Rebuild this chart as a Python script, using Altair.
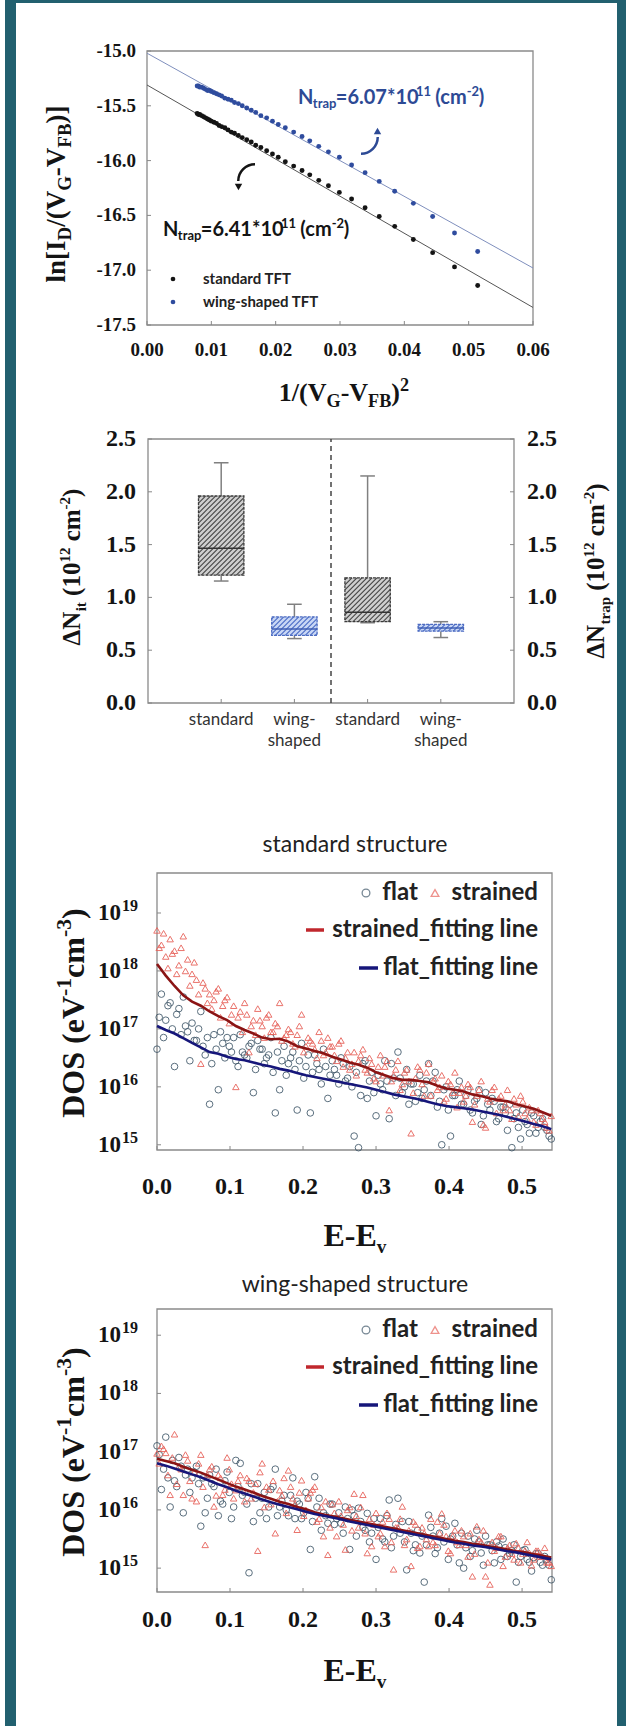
import math
import altair as alt
import pandas as pd

# ---------------------------------------------------------------- styles
SERIF = "Liberation Serif"
SANS = "Lato"
TEAL = "#22606f"
INK = "#141414"
DOT_BLUE = "#2f4c9e"
FRAME = "#8a8a8a"
CIRC = "#3e5668"
TRI = "#e8645c"
RED_FIT = "#8b1414"
NAVY_FIT = "#16167a"

# ---------------------------------------------------------------- panel 1 data
p1_x = [0.0514, 0.0478, 0.0444, 0.0414, 0.0385, 0.0361, 0.0339, 0.0318, 0.0299, 0.0282,
        0.0267, 0.0253, 0.0241, 0.0228, 0.0215, 0.0204, 0.0195, 0.0186, 0.0177, 0.0169,
        0.0162, 0.0155, 0.0148, 0.0142, 0.0136, 0.0131, 0.0126, 0.0121, 0.0116, 0.0112,
        0.0108, 0.0104, 0.0100, 0.0097, 0.0094, 0.0091, 0.0088, 0.0085, 0.0082, 0.0080,
        0.0078]
p1_std = [-17.14, -16.97, -16.84, -16.72, -16.60, -16.51, -16.43, -16.35, -16.29, -16.23,
          -16.18, -16.13, -16.09, -16.05, -16.01, -15.97, -15.94, -15.91, -15.88, -15.86,
          -15.83, -15.81, -15.79, -15.77, -15.75, -15.74, -15.72, -15.70, -15.69, -15.68,
          -15.66, -15.65, -15.64, -15.63, -15.62, -15.61, -15.60, -15.59, -15.58, -15.58,
          -15.57]
p1_wing = [-16.83, -16.66, -16.51, -16.39, -16.28, -16.19, -16.11, -16.04, -15.97, -15.92,
           -15.87, -15.82, -15.78, -15.74, -15.70, -15.67, -15.64, -15.61, -15.59, -15.56,
           -15.54, -15.52, -15.50, -15.48, -15.47, -15.45, -15.44, -15.43, -15.41, -15.40,
           -15.39, -15.38, -15.37, -15.36, -15.36, -15.35, -15.34, -15.33, -15.33, -15.32,
           -15.32]
p1_fit_x = [0.0, 0.06]
p1_fit_std = [-15.31, -17.34]
p1_fit_wing = [-15.02, -16.98]
p1_xticks = [0.00, 0.01, 0.02, 0.03, 0.04, 0.05, 0.06]
p1_yticks = [-15.0, -15.5, -16.0, -16.5, -17.0, -17.5]

# ---------------------------------------------------------------- panel 2 data
box_kind = ["standard", "wing-shaped", "standard", "wing-shaped"]
box_pos = [1, 2, 3, 4]
box_whislo = [1.155, 0.61, 0.76, 0.62]
box_q1 = [1.21, 0.64, 0.77, 0.68]
box_med = [1.465, 0.70, 0.86, 0.71]
box_q3 = [1.96, 0.815, 1.185, 0.745]
box_whishi = [2.275, 0.935, 2.15, 0.77]
p2_yticks = [0.0, 0.5, 1.0, 1.5, 2.0, 2.5]
p2_lab1 = ["standard", "wing-", "standard", "wing-"]
p2_lab2 = ["", "shaped", "", "shaped"]

# ---------------------------------------------------------------- panels 3/4 data (log10 DOS)
E_PTS = [0.000, 0.006, 0.012, 0.018, 0.024, 0.030, 0.036, 0.042, 0.048, 0.054,
         0.060, 0.066, 0.072, 0.078, 0.084, 0.090, 0.096, 0.102, 0.108, 0.114,
         0.120, 0.126, 0.132, 0.138, 0.144, 0.150, 0.156, 0.162, 0.168, 0.174,
         0.180, 0.186, 0.192, 0.198, 0.204, 0.210, 0.216, 0.222, 0.228, 0.234,
         0.240, 0.246, 0.252, 0.258, 0.264, 0.270, 0.276, 0.282, 0.288, 0.294,
         0.300, 0.306, 0.312, 0.318, 0.324, 0.330, 0.336, 0.342, 0.348, 0.354,
         0.360, 0.366, 0.372, 0.378, 0.384, 0.390, 0.396, 0.402, 0.408, 0.414,
         0.420, 0.426, 0.432, 0.438, 0.444, 0.450, 0.456, 0.462, 0.468, 0.474,
         0.480, 0.486, 0.492, 0.498, 0.504, 0.510, 0.516, 0.522, 0.528, 0.534,
         0.540]
E_PTS2 = [0.003, 0.009, 0.015, 0.021, 0.027, 0.033, 0.039, 0.045, 0.051, 0.057,
          0.063, 0.069, 0.075, 0.081, 0.087, 0.093, 0.099, 0.105, 0.111, 0.117,
          0.123, 0.129, 0.135, 0.141, 0.147, 0.153, 0.159, 0.165, 0.171, 0.177,
          0.183, 0.189, 0.195, 0.201, 0.207, 0.213, 0.219, 0.225, 0.231, 0.237,
          0.243, 0.249, 0.255, 0.261, 0.267, 0.273, 0.279, 0.285, 0.291, 0.297,
          0.303, 0.309, 0.315, 0.321, 0.327, 0.333, 0.339, 0.345, 0.351, 0.357,
          0.363, 0.369, 0.375, 0.381, 0.387, 0.393, 0.399, 0.405, 0.411, 0.417,
          0.423, 0.429, 0.435, 0.441, 0.447, 0.453, 0.459, 0.465, 0.471, 0.477,
          0.483, 0.489, 0.495, 0.501, 0.507, 0.513, 0.519, 0.525, 0.531, 0.537]
std_strained = [18.70, 18.45, 18.25, 18.55, 18.35, 18.10, 18.60, 18.20, 17.95, 17.85,
                16.40, 17.70, 17.60, 17.50, 17.70, 17.40, 17.55, 17.25, 16.00, 17.30,
                17.45, 16.60, 17.15, 17.35, 17.05, 17.20, 16.95, 17.10, 17.45, 16.85,
                17.00, 16.75, 16.90, 17.25, 16.70, 16.80, 16.65, 16.95, 16.55, 16.85,
                16.70, 16.45, 16.80, 16.50, 16.30, 16.60, 16.45, 16.65, 16.25, 16.40,
                16.10, 16.55, 16.35, 15.60, 16.20, 16.45, 16.05, 16.30, 15.20, 16.15,
                16.30, 15.85, 16.40, 16.10, 15.95, 16.20, 15.80, 16.05, 16.25, 15.90,
                15.75, 16.05, 15.40, 15.85, 16.10, 15.30, 15.75, 16.00, 15.80, 15.60,
                15.95, 15.45, 15.70, 15.85, 15.55, 15.65, 15.40, 15.60, 15.45, 15.30,
                15.50]
std_strained2 = [18.40, 18.65, 18.05, 18.30, 17.95, 18.40, 18.00, 17.75, 18.15, 17.60,
                 17.80, 17.45, 17.35, 17.65, 17.20, 17.50, 17.10, 17.40, 17.20, 16.95,
                 17.25, 17.05, 16.90, 17.15, 16.85, 17.25, 16.95, 17.05, 16.80, 16.90,
                 16.95, 16.70, 17.05, 16.60, 16.85, 16.75, 16.50, 16.80, 16.60, 16.70,
                 16.55, 16.75, 16.35, 16.60, 16.40, 16.20, 16.55, 16.30, 16.50, 16.15,
                 16.35, 16.20, 16.45, 16.10, 16.30, 15.95, 16.25, 16.10, 15.90, 16.35,
                 16.05, 16.25, 15.85, 16.15, 16.00, 15.75, 16.10, 15.90, 15.65, 16.00,
                 15.85, 16.00, 15.70, 15.95, 15.35, 15.80, 15.95, 15.55, 15.85, 15.70,
                 15.60, 15.80, 15.50, 15.75, 15.45, 15.60, 15.35, 15.55, 15.40, 15.25]
std_flat = [16.65, 17.60, 17.15, 17.45, 16.35, 17.35, 17.55, 16.95, 17.10, 16.80,
            17.30, 16.55, 15.70, 16.90, 15.95, 16.75, 16.85, 16.60, 16.45, 16.90,
            16.55, 16.70, 15.90, 16.80, 16.65, 16.50, 16.85, 15.55, 15.95, 16.70,
            16.40, 16.60, 15.60, 16.75, 16.35, 15.55, 16.55, 16.30, 16.65, 15.80,
            16.45, 16.20, 16.50, 16.10, 16.35, 15.15, 14.95, 16.40, 15.80, 16.25,
            15.50, 16.05, 16.45, 15.45, 16.15, 16.60, 15.90, 16.30, 16.05, 15.75,
            16.20, 15.95, 16.40, 16.10, 15.65, 15.00, 16.00, 15.15, 15.85, 16.10,
            15.70, 15.95, 15.55, 15.80, 15.35, 15.90, 15.60, 15.75, 15.45, 15.65,
            15.25, 14.95, 15.55, 15.10, 15.40, 15.20, 15.50, 15.30, 15.45, 15.25,
            15.10]
std_flat2 = [17.20, 16.85, 17.40, 17.00, 17.25, 16.90, 17.05, 16.45, 16.80, 17.00,
             16.70, 16.85, 16.40, 16.65, 16.95, 16.50, 16.70, 16.85, 16.35, 16.60,
             16.50, 16.75, 16.30, 16.65, 16.40, 16.55, 16.25, 16.60, 16.45, 16.20,
             16.50, 16.30, 16.45, 16.15, 16.55, 16.25, 16.40, 16.05, 16.35, 16.20,
             16.30, 16.05, 16.40, 16.15, 16.00, 16.25, 15.85, 16.45, 16.10, 15.90,
             16.20, 15.95, 16.10, 16.40, 15.85, 16.15, 16.00, 15.70, 16.05, 15.90,
             15.80, 16.10, 15.85, 16.25, 15.75, 15.95, 15.60, 15.85, 15.95, 15.70,
             15.85, 15.60, 15.75, 15.95, 15.50, 15.70, 15.80, 15.40, 15.65, 15.55,
             15.70, 15.45, 15.30, 15.60, 15.35, 15.55, 15.20, 15.40, 15.30, 15.15]
wing_flat = [17.10, 16.35, 17.25, 16.05, 16.50, 16.90, 15.95, 16.70, 16.55, 16.75,
             15.72, 15.95, 16.60, 16.40, 15.90, 16.10, 16.65, 15.85, 16.85, 16.80,
             16.30, 14.92, 15.80, 16.45, 16.20, 15.85, 16.35, 16.70, 16.05, 16.25,
             15.90, 16.55, 16.15, 15.85, 16.30, 15.32, 16.57, 16.20, 15.95, 15.77,
             16.10, 15.85, 15.77, 16.05, 15.32, 15.90, 16.03, 15.70, 15.94, 15.60,
             15.15, 15.85, 15.45, 16.17, 15.55, 16.20, 15.80, 14.97, 15.60, 15.40,
             15.26, 14.76, 15.91, 15.55, 15.35, 15.85, 15.72, 15.50, 15.77, 15.09,
             15.00, 15.55, 15.30, 15.65, 15.26, 15.55, 15.40, 15.09, 15.38, 15.50,
             15.20, 15.30, 14.76, 15.20, 15.32, 15.10, 15.18, 15.25, 15.05, 15.15,
             14.80]
wing_flat2 = [16.95, 16.70, 16.55, 16.85, 16.40, 16.75, 16.60, 16.30, 16.65, 16.45,
              16.55, 16.20, 16.45, 16.70, 16.15, 16.50, 16.30, 16.05, 16.40, 16.25,
              16.10, 16.45, 16.20, 15.95, 16.30, 16.05, 16.40, 15.90, 16.15, 16.00,
              16.25, 15.85, 16.10, 15.95, 16.20, 15.80, 16.05, 15.65, 15.90, 16.10,
              15.75, 15.95, 15.60, 15.85, 16.00, 15.55, 15.80, 15.65, 15.45, 15.85,
              15.70, 15.50, 15.90, 15.35, 15.75, 15.60, 15.45, 15.80, 15.30, 15.65,
              15.55, 15.40, 15.70, 15.25, 15.60, 15.45, 15.15, 15.55, 15.40, 15.60,
              15.35, 15.20, 15.50, 15.45, 15.05, 15.40, 15.30, 15.45, 15.15, 15.35,
              15.25, 15.40, 15.10, 15.30, 15.15, 14.95, 15.25, 15.10, 15.20, 15.05]
wing_strained = [16.97, 17.10, 16.98, 16.26, 17.30, 16.75, 16.26, 16.85, 16.20, 16.15,
                 16.95, 15.40, 16.70, 16.06, 16.60, 16.26, 16.90, 16.45, 16.34, 16.60,
                 16.15, 16.50, 16.30, 15.30, 16.80, 16.40, 16.10, 15.60, 16.34, 16.55,
                 16.68, 16.20, 15.66, 16.51, 16.00, 16.30, 16.40, 15.85, 15.55, 15.23,
                 16.10, 15.55, 15.90, 15.32, 16.05, 16.28, 15.70, 16.26, 15.26, 15.38,
                 15.95, 15.60, 15.38, 15.85, 14.98, 15.70, 16.06, 15.50, 15.04, 15.75,
                 15.38, 15.60, 15.38, 15.45, 15.80, 15.94, 15.55, 15.26, 15.65, 15.40,
                 15.55, 15.20, 14.86, 15.72, 15.45, 14.86, 14.72, 15.30, 15.55, 15.04,
                 15.35, 15.25, 15.43, 15.10, 15.30, 15.26, 15.15, 15.30, 15.20, 15.10,
                 15.04]
wing_strained2 = [16.80, 17.05, 16.60, 16.90, 16.45, 16.70, 16.95, 16.50, 16.65, 16.80,
                  16.40, 16.60, 16.75, 16.25, 16.55, 16.35, 16.70, 16.20, 16.50, 16.35,
                  16.55, 16.20, 16.45, 16.65, 16.05, 16.35, 16.50, 16.15, 16.25, 15.95,
                  16.40, 16.10, 16.30, 15.90, 16.20, 16.35, 15.80, 16.05, 16.15, 15.70,
                  15.95, 16.15, 15.75, 16.00, 15.65, 15.90, 16.05, 15.60, 15.85, 15.75,
                  15.55, 15.80, 15.95, 15.45, 15.70, 15.85, 15.40, 15.65, 15.80, 15.35,
                  15.70, 15.50, 15.85, 15.40, 15.60, 15.75, 15.30, 15.55, 15.45, 15.65,
                  15.40, 15.60, 15.25, 15.50, 15.65, 15.10, 15.45, 15.35, 15.55, 15.20,
                  15.40, 15.15, 15.35, 15.25, 15.45, 15.05, 15.30, 15.20, 15.35, 15.10]
E_FIT = [0.000, 0.012, 0.024, 0.036, 0.048, 0.060, 0.072, 0.084, 0.096, 0.108,
         0.120, 0.132, 0.144, 0.156, 0.168, 0.180, 0.192, 0.204, 0.216, 0.228,
         0.240, 0.252, 0.264, 0.276, 0.288, 0.300, 0.312, 0.324, 0.336, 0.348,
         0.360, 0.372, 0.384, 0.396, 0.408, 0.420, 0.432, 0.444, 0.456, 0.468,
         0.480, 0.492, 0.504, 0.516, 0.528, 0.540]
std_fit_strained = [18.12, 17.92, 17.74, 17.58, 17.47, 17.40, 17.30, 17.22, 17.15, 17.05,
                    16.98, 16.92, 16.85, 16.82, 16.83, 16.78, 16.70, 16.66, 16.62, 16.58,
                    16.52, 16.47, 16.42, 16.38, 16.33, 16.25, 16.20, 16.15, 16.12, 16.12,
                    16.10, 16.08, 16.02, 15.97, 15.95, 15.92, 15.87, 15.84, 15.80, 15.77,
                    15.75, 15.70, 15.66, 15.62, 15.56, 15.50]
std_fit_flat = [17.05, 16.98, 16.92, 16.84, 16.76, 16.68, 16.60, 16.57, 16.52, 16.48,
                16.46, 16.42, 16.38, 16.35, 16.31, 16.28, 16.24, 16.20, 16.17, 16.14,
                16.11, 16.08, 16.05, 16.02, 15.99, 15.95, 15.91, 15.87, 15.84, 15.81,
                15.78, 15.74, 15.70, 15.67, 15.65, 15.63, 15.61, 15.58, 15.55, 15.52,
                15.48, 15.44, 15.40, 15.36, 15.32, 15.27]
wing_fit_strained = [16.88, 16.84, 16.80, 16.74, 16.69, 16.64, 16.58, 16.52, 16.46, 16.40,
                     16.35, 16.30, 16.24, 16.19, 16.14, 16.10, 16.05, 16.01, 15.96, 15.92,
                     15.89, 15.86, 15.83, 15.80, 15.77, 15.74, 15.71, 15.68, 15.65, 15.62,
                     15.59, 15.56, 15.53, 15.50, 15.47, 15.45, 15.42, 15.40, 15.37, 15.35,
                     15.32, 15.29, 15.27, 15.24, 15.21, 15.18]
wing_fit_flat = [16.80, 16.76, 16.71, 16.66, 16.61, 16.56, 16.50, 16.44, 16.39, 16.33,
                 16.28, 16.23, 16.18, 16.13, 16.09, 16.05, 16.01, 15.97, 15.93, 15.90,
                 15.87, 15.84, 15.80, 15.77, 15.74, 15.71, 15.68, 15.65, 15.62, 15.59,
                 15.56, 15.53, 15.50, 15.47, 15.44, 15.42, 15.39, 15.37, 15.35, 15.32,
                 15.29, 15.27, 15.24, 15.21, 15.18, 15.15]
dos_xticks = [0.0, 0.1, 0.2, 0.3, 0.4, 0.5]
dos_yexp = [15, 16, 17, 18, 19]

# ---------------------------------------------------------------- text metrics (for rich text)
TB = {' ': 0.25, '(': 0.333, ')': 0.333, '[': 0.333, ']': 0.333, '/': 0.278, '-': 0.333,
      '.': 0.25, 'A': 0.722, 'B': 0.667, 'C': 0.722, 'D': 0.722, 'E': 0.667, 'F': 0.611,
      'G': 0.778, 'I': 0.389, 'N': 0.722, 'O': 0.778, 'S': 0.556, 'V': 0.722, 'a': 0.5,
      'c': 0.444, 'e': 0.444, 'i': 0.278, 'l': 0.278, 'm': 0.833, 'n': 0.556, 'p': 0.556,
      'r': 0.444, 't': 0.333, 'v': 0.5, '\u0394': 0.64}
for _d in "0123456789":
    TB[_d] = 0.5
LB = {' ': 0.24, '(': 0.30, ')': 0.30, '-': 0.36, '.': 0.25, '*': 0.40, '=': 0.56,
      'N': 0.74, 'a': 0.51, 'c': 0.44, 'm': 0.83, 'p': 0.55, 'r': 0.36, 't': 0.35}
for _d in "0123456789":
    LB[_d] = 0.56


def rich(pieces, x, y, size, table, color, angle=0, anchor="left", ratio=0.62,
         sub=0.22, sup=0.40):
    """Lay out pieces of text with sub/superscripts; spaces only advance the pen."""
    out, adv = [], 0.0
    for t, k in pieces:
        s = size if k == "n" else size * ratio
        shift = 0.0 if k == "n" else (sub * size if k == "sub" else -sup * size)
        lead = len(t) - len(t.lstrip(" "))
        body = t.strip(" ")
        out.append((body, s, adv + lead * table[" "] * s, shift))
        adv += sum(table.get(ch, 0.5) for ch in t) * s
    start = {"left": 0.0, "center": -adv / 2, "right": -adv}[anchor]
    rows = []
    for t, s, off, shift in out:
        if angle == 0:
            rows.append(dict(t=t, s=s, px=x + start + off, py=y + shift, a=0, c=color))
        else:
            rows.append(dict(t=t, s=s, px=x + shift, py=y - (start + off), a=270, c=color))
    return rows


def text_layer(rows, font, weight, align="left", baseline="alphabetic"):
    return alt.Chart(pd.DataFrame(rows)).mark_text(
        font=font, fontWeight=weight, align=align, baseline=baseline
    ).encode(
        x=alt.X("px:Q", scale=None, axis=None),
        y=alt.Y("py:Q", scale=None, axis=None),
        text="t:N",
        size=alt.Size("s:Q", scale=None, legend=None),
        angle=alt.Angle("a:Q", scale=None, legend=None),
        color=alt.Color("c:N", scale=None, legend=None),
    )


ONE = pd.DataFrame({"d": [0]})


def px_rect(x, x2, y, y2, color):
    return alt.Chart(ONE).mark_rect(color=color).encode(
        x=alt.value(x), x2=alt.value(x2), y=alt.value(y), y2=alt.value(y2))


# ---------------------------------------------------------------- panel 1
X1 = alt.Scale(domain=[0, 0.06], range=[147, 533], zero=False, nice=False)
Y1 = alt.Scale(domain=[-17.5, -15.0], range=[325, 51], zero=False, nice=False)
d1 = pd.DataFrame({"x": p1_x + p1_x, "y": p1_std + p1_wing,
                   "s": ["standard TFT"] * len(p1_x) + ["wing-shaped TFT"] * len(p1_x)})
f1 = pd.DataFrame({"x": p1_fit_x, "std": p1_fit_std, "wing": p1_fit_wing})
fr1 = pd.DataFrame({"x0": [0.0], "x1": [0.06], "y0": [-17.5], "y1": [-15.0]})
xt1 = pd.DataFrame({"v": p1_xticks, "lab": [f"{v:.2f}" for v in p1_xticks]})
yt1 = pd.DataFrame({"v": p1_yticks, "lab": [f"{v:.1f}" for v in p1_yticks]})

p1 = alt.layer(
    alt.Chart(fr1).mark_rect(fillOpacity=0, stroke=FRAME, strokeWidth=1.3).encode(
        x=alt.X("x0:Q", scale=X1, axis=None), x2="x1:Q",
        y=alt.Y("y0:Q", scale=Y1, axis=None), y2="y1:Q"),
    alt.Chart(xt1).mark_rule(color="#888").encode(
        x=alt.X("v:Q", scale=X1, axis=None), y=alt.value(325), y2=alt.value(321)),
    alt.Chart(yt1).mark_rule(color="#888").encode(
        y=alt.Y("v:Q", scale=Y1, axis=None), x=alt.value(147), x2=alt.value(151)),
    alt.Chart(f1).mark_line(color="#7f8fbd", strokeWidth=1).encode(
        x=alt.X("x:Q", scale=X1, axis=None), y=alt.Y("wing:Q", scale=Y1, axis=None)),
    alt.Chart(f1).mark_line(color="#555555", strokeWidth=1).encode(
        x=alt.X("x:Q", scale=X1, axis=None), y=alt.Y("std:Q", scale=Y1, axis=None)),
    alt.Chart(d1).mark_circle(size=24, opacity=1).encode(
        x=alt.X("x:Q", scale=X1, axis=None), y=alt.Y("y:Q", scale=Y1, axis=None),
        color=alt.condition(alt.datum.s == "standard TFT", alt.value(INK), alt.value(DOT_BLUE))),
    alt.Chart(xt1).mark_text(font=SERIF, fontWeight="bold", fontSize=19, color=INK,
                             baseline="middle").encode(
        x=alt.X("v:Q", scale=X1, axis=None), y=alt.value(350), text="lab:N"),
    alt.Chart(yt1).mark_text(font=SERIF, fontWeight="bold", fontSize=19, color=INK,
                             align="right", baseline="middle").encode(
        y=alt.Y("v:Q", scale=Y1, axis=None), x=alt.value(136), text="lab:N"),
)

# ---------------------------------------------------------------- panel 2
X2_DOM, X2_RNG = [0, 5], [148, 514]
Y2_DOM, Y2_RNG = [0, 2.5], [703, 439]
X2 = alt.Scale(domain=X2_DOM, range=X2_RNG, zero=False, nice=False)
Y2 = alt.Scale(domain=Y2_DOM, range=Y2_RNG, zero=False, nice=False)
HALF = 0.31


def fwd(v, dom, rng):
    return rng[0] + (v - dom[0]) * (rng[1] - rng[0]) / (dom[1] - dom[0])


def inv(p, dom, rng):
    return dom[0] + (p - rng[0]) * (dom[1] - dom[0]) / (rng[1] - rng[0])


# diagonal hatch segments derived from each box's extent
hatch = []
for kind, pos, q1, q3 in zip(box_kind, box_pos, box_q1, box_q3):
    xl, xr = fwd(pos - HALF, X2_DOM, X2_RNG), fwd(pos + HALF, X2_DOM, X2_RNG)
    yt, yb = fwd(q3, Y2_DOM, Y2_RNG), fwd(q1, Y2_DOM, Y2_RNG)
    c = xl + yt + 2
    while c < xr + yb:
        xa, xb = max(xl, c - yb), min(xr, c - yt)
        if xb > xa:
            hatch.append(dict(kind=kind,
                              hx1=inv(xa, X2_DOM, X2_RNG), hy1=inv(c - xa, Y2_DOM, Y2_RNG),
                              hx2=inv(xb, X2_DOM, X2_RNG), hy2=inv(c - xb, Y2_DOM, Y2_RNG)))
        c += 5.0
hatch = pd.DataFrame(hatch)

d2 = pd.DataFrame({"kind": box_kind, "pos": box_pos, "lo": box_whislo, "q1": box_q1,
                   "med": box_med, "q3": box_q3, "hi": box_whishi,
                   "l1": p2_lab1, "l2": p2_lab2})
fr2 = pd.DataFrame({"x0": [0.0], "x1": [5.0], "y0": [0.0], "y1": [2.5], "mid": [2.5]})
yt2 = pd.DataFrame({"v": p2_yticks, "lab": [f"{v:.1f}" for v in p2_yticks]})
is_std = alt.datum.kind == "standard"


def bx(field):
    return alt.X(field, scale=X2, axis=None)


def by(field):
    return alt.Y(field, scale=Y2, axis=None)


p2_base = alt.Chart(d2).transform_calculate(
    bl=f"datum.pos - {HALF}", br=f"datum.pos + {HALF}",
    cl="datum.pos - 0.1", cr="datum.pos + 0.1")
p2 = alt.layer(
    alt.Chart(fr2).mark_rect(fillOpacity=0, stroke=FRAME, strokeWidth=1.3).encode(
        x=bx("x0:Q"), x2="x1:Q", y=by("y0:Q"), y2="y1:Q"),
    alt.Chart(yt2).mark_rule(color="#888").encode(
        y=by("v:Q"), x=alt.value(148), x2=alt.value(152)),
    alt.Chart(yt2).mark_rule(color="#888").encode(
        y=by("v:Q"), x=alt.value(510), x2=alt.value(514)),
    alt.Chart(d2).mark_rule(color="#888").encode(
        x=bx("pos:Q"), y=alt.value(703), y2=alt.value(699)),
    alt.Chart(fr2).mark_rule(color="#444", strokeDash=[5, 4], strokeWidth=1.5).encode(
        x=bx("mid:Q"), y=by("y0:Q"), y2="y1:Q"),
    p2_base.mark_rule(color="#808080", strokeWidth=1.5).encode(
        x=bx("pos:Q"), y=by("q3:Q"), y2="hi:Q"),
    p2_base.mark_rule(color="#808080", strokeWidth=1.5).encode(
        x=bx("pos:Q"), y=by("lo:Q"), y2="q1:Q"),
    p2_base.mark_rule(color="#808080", strokeWidth=1.5).encode(
        x=bx("cl:Q"), x2="cr:Q", y=by("hi:Q")),
    p2_base.mark_rule(color="#808080", strokeWidth=1.5).encode(
        x=bx("cl:Q"), x2="cr:Q", y=by("lo:Q")),
    p2_base.mark_rect().encode(
        x=bx("bl:Q"), x2="br:Q", y=by("q1:Q"), y2="q3:Q",
        fill=alt.condition(is_std, alt.value("#cfcfcf"), alt.value("#c9d7f5"))),
    alt.Chart(hatch).mark_rule(strokeWidth=1.1).encode(
        x=bx("hx1:Q"), x2="hx2:Q", y=by("hy1:Q"), y2="hy2:Q",
        color=alt.condition(is_std, alt.value("#454545"), alt.value("#4a6cc6"))),
    p2_base.mark_rect(fillOpacity=0, strokeWidth=1.3, strokeDash=[3, 1]).encode(
        x=bx("bl:Q"), x2="br:Q", y=by("q1:Q"), y2="q3:Q",
        stroke=alt.condition(is_std, alt.value("#3a3a3a"), alt.value("#4d6cc2"))),
    p2_base.mark_rule(strokeWidth=1.5).encode(
        x=bx("bl:Q"), x2="br:Q", y=by("med:Q"),
        color=alt.condition(is_std, alt.value("#333333"), alt.value("#3f5fb5"))),
    alt.Chart(yt2).mark_text(font=SERIF, fontWeight="bold", fontSize=24, color=INK,
                             align="right", baseline="middle").encode(
        y=by("v:Q"), x=alt.value(136), text="lab:N"),
    alt.Chart(yt2).mark_text(font=SERIF, fontWeight="bold", fontSize=24, color=INK,
                             align="left", baseline="middle").encode(
        y=by("v:Q"), x=alt.value(527), text="lab:N"),
    alt.Chart(d2).mark_text(font=SANS, fontSize=17, color="#333", baseline="middle").encode(
        x=bx("pos:Q"), y=alt.value(720), text="l1:N"),
    alt.Chart(d2).mark_text(font=SANS, fontSize=17, color="#333", baseline="middle").encode(
        x=bx("pos:Q"), y=alt.value(741), text="l2:N"),
)


# ---------------------------------------------------------------- panels 3 / 4
def dos_panel(flat, flat2, strained, strained2, fit_strained, fit_flat, yrange, ydom, xlab_y):
    XS = alt.Scale(domain=[0, 0.541], range=[157, 552], zero=False, nice=False)
    YS = alt.Scale(type="log", domain=[10 ** ydom[0], 10 ** ydom[1]], range=yrange, nice=False)
    pts = pd.DataFrame({"E": E_PTS + E_PTS2 + E_PTS + E_PTS2,
                        "dos": [10 ** v for v in flat + flat2 + strained + strained2],
                        "s": ["flat"] * (len(E_PTS) + len(E_PTS2))
                        + ["strained"] * (len(E_PTS) + len(E_PTS2))})
    fit = pd.DataFrame({"E": E_FIT,
                        "fs": [10 ** v for v in fit_strained],
                        "ff": [10 ** v for v in fit_flat]})
    fr = pd.DataFrame({"x0": [0.0], "x1": [0.541], "y0": [10 ** ydom[0]], "y1": [10 ** ydom[1]]})
    xt = pd.DataFrame({"v": dos_xticks, "lab": [f"{v:.1f}" for v in dos_xticks]})
    yt = pd.DataFrame({"v": [10.0 ** e for e in dos_yexp], "e": [str(e) for e in dos_yexp]})
    ex = lambda f: alt.X(f, scale=XS, axis=None)
    ey = lambda f: alt.Y(f, scale=YS, axis=None)
    bottom = yrange[0]
    return alt.layer(
        alt.Chart(fr).mark_rect(fillOpacity=0, stroke=FRAME, strokeWidth=1.3).encode(
            x=ex("x0:Q"), x2="x1:Q", y=ey("y0:Q"), y2="y1:Q"),
        alt.Chart(xt).mark_rule(color="#888").encode(
            x=ex("v:Q"), y=alt.value(bottom), y2=alt.value(bottom - 4)),
        alt.Chart(yt).mark_rule(color="#888").encode(
            y=ey("v:Q"), x=alt.value(157), x2=alt.value(161)),
        alt.Chart(pts).transform_filter(alt.datum.s == "flat").mark_point(
            shape="circle", filled=False, size=44, strokeWidth=1.0, color=CIRC, opacity=0.85).encode(
            x=ex("E:Q"), y=ey("dos:Q")),
        alt.Chart(pts).transform_filter(alt.datum.s == "strained").mark_point(
            shape="triangle-up", filled=False, size=42, strokeWidth=1.0, color=TRI, opacity=0.9).encode(
            x=ex("E:Q"), y=ey("dos:Q")),
        alt.Chart(fit).mark_line(color=RED_FIT, strokeWidth=2.6).encode(
            x=ex("E:Q"), y=ey("fs:Q")),
        alt.Chart(fit).mark_line(color=NAVY_FIT, strokeWidth=2.6).encode(
            x=ex("E:Q"), y=ey("ff:Q")),
        alt.Chart(xt).mark_text(font=SERIF, fontWeight="bold", fontSize=24, color=INK,
                                baseline="middle").encode(
            x=ex("v:Q"), y=alt.value(xlab_y), text="lab:N"),
        alt.Chart(yt).mark_text(font=SERIF, fontWeight="bold", fontSize=23, color=INK,
                                align="right", baseline="middle").encode(
            y=ey("v:Q"), x=alt.value(121), text=alt.value("10")),
        alt.Chart(yt).mark_text(font=SERIF, fontWeight="bold", fontSize=16, color=INK,
                                align="left", baseline="middle", dy=-7).encode(
            y=ey("v:Q"), x=alt.value(122), text="e:N"),
    )


p3 = dos_panel(std_flat, std_flat2, std_strained, std_strained2,
               std_fit_strained, std_fit_flat, [1150, 873], [14.91, 19.69], 1187)
p4 = dos_panel(wing_flat, wing_flat2, wing_strained, wing_strained2,
               wing_fit_strained, wing_fit_flat, [1592, 1309], [14.59, 19.45], 1620)

# ---------------------------------------------------------------- annotations
serif_rows = []
serif_rows += rich([("ln[I", "n"), ("D", "sub"), ("/(V", "n"), ("G", "sub"), ("-V", "n"),
                    ("FB", "sub"), (")]", "n")], 65, 194, 27, TB, INK, angle=270,
                   anchor="center", ratio=0.7)
serif_rows += rich([("1/(V", "n"), ("G", "sub"), ("-V", "n"), ("FB", "sub"), (")", "n"),
                    ("2", "sup")], 344, 401, 26, TB, INK, anchor="center", ratio=0.7)
serif_rows += rich([("\u0394N", "n"), ("it", "sub"), (" (10", "n"), ("12", "sup"), (" cm", "n"),
                    ("-2", "sup"), (")", "n")], 80, 567, 25, TB, INK, angle=270,
                   anchor="center", ratio=0.6)
serif_rows += rich([("\u0394N", "n"), ("trap", "sub"), (" (10", "n"), ("12", "sup"), (" cm", "n"),
                    ("-2", "sup"), (")", "n")], 604, 571, 25, TB, INK, angle=270,
                   anchor="center", ratio=0.6)
for cy, by_ in [(1013, 1246), (1452, 1681)]:
    serif_rows += rich([("DOS (eV", "n"), ("-1", "sup"), ("cm", "n"), ("-3", "sup"), (")", "n")],
                       84, cy, 32, TB, INK, angle=270, anchor="center", ratio=0.68)
    serif_rows += rich([("E-E", "n"), ("v", "sub")], 355, by_, 32, TB, INK,
                       anchor="center", ratio=0.6)

lato_rows = []
lato_rows += rich([("N", "n"), ("trap", "sub"), ("=6.07*10", "n"), ("11", "sup"), (" (cm", "n"),
                   ("-2", "sup"), (")", "n")], 298, 104, 20, LB, "#2d4a95", ratio=0.65)
lato_rows += rich([("N", "n"), ("trap", "sub"), ("=6.41*10", "n"), ("11", "sup"), (" (cm", "n"),
                   ("-2", "sup"), (")", "n")], 163, 236, 20, LB, INK, ratio=0.65)

leg_left = [dict(t="standard TFT", s=15, px=203, py=279, a=0, c="#222"),
            dict(t="wing-shaped TFT", s=15, px=203, py=302, a=0, c="#222")]
leg_right = []
for y0 in (893, 1330):
    leg_right += [dict(t="flat", s=24, px=418, py=y0, a=0, c="#222"),
                  dict(t="strained", s=24, px=538, py=y0, a=0, c="#222"),
                  dict(t="strained_fitting line", s=24, px=538, py=y0 + 37, a=0, c="#222"),
                  dict(t="flat_fitting line", s=24, px=538, py=y0 + 75, a=0, c="#222")]
titles = [dict(t="standard structure", s=23, px=355, py=845, a=0, c="#222"),
          dict(t="wing-shaped structure", s=23, px=355, py=1285, a=0, c="#222")]

leg_marks = []
for y0 in (893, 1330):
    leg_marks.append(alt.Chart(ONE).mark_point(shape="circle", filled=False, size=60,
                                               strokeWidth=1.3, color=CIRC).encode(
        x=alt.value(366), y=alt.value(y0)))
    leg_marks.append(alt.Chart(ONE).mark_point(shape="triangle-up", filled=False, size=60,
                                               strokeWidth=1.3, color=TRI).encode(
        x=alt.value(435), y=alt.value(y0)))
    leg_marks.append(alt.Chart(ONE).mark_rule(color="#c0272d", strokeWidth=3.5).encode(
        x=alt.value(306), x2=alt.value(324), y=alt.value(y0 + 37)))
    leg_marks.append(alt.Chart(ONE).mark_rule(color=NAVY_FIT, strokeWidth=3.5).encode(
        x=alt.value(359), x2=alt.value(378), y=alt.value(y0 + 75)))
leg_marks.append(alt.Chart(ONE).mark_circle(size=22, opacity=1, color=INK).encode(
    x=alt.value(173), y=alt.value(279)))
leg_marks.append(alt.Chart(ONE).mark_circle(size=22, opacity=1, color=DOT_BLUE).encode(
    x=alt.value(173), y=alt.value(302)))

arrows = [
    alt.Chart(ONE).mark_arc(radius=18, radius2=15.5, theta=math.pi / 2, theta2=math.pi,
                            color="#2d4a95").encode(x=alt.value(361), y=alt.value(137)),
    alt.Chart(ONE).mark_point(shape="triangle-up", filled=True, size=55, color="#2d4a95",
                              opacity=1).encode(x=alt.value(377.5), y=alt.value(131)),
    alt.Chart(ONE).mark_arc(radius=18, radius2=15.5, theta=3 * math.pi / 2, theta2=2 * math.pi,
                            color=INK).encode(x=alt.value(255), y=alt.value(181)),
    alt.Chart(ONE).mark_point(shape="triangle-down", filled=True, size=55, color=INK,
                              opacity=1).encode(x=alt.value(238.5), y=alt.value(187)),
]

deco = alt.layer(
    px_rect(5, 16, 0, 1726, TEAL),
    px_rect(5, 626, 0, 3, TEAL),
    px_rect(617, 626, 0, 1726, TEAL),
)

ann = alt.layer(
    text_layer(serif_rows, SERIF, "bold"),
    text_layer(lato_rows, SANS, "bold"),
    text_layer(leg_left, SANS, "bold", align="left", baseline="middle"),
    text_layer(leg_right, SANS, "bold", align="right", baseline="middle"),
    text_layer(titles, SANS, "normal", align="center", baseline="middle"),
    *leg_marks,
    *arrows,
)

chart = alt.layer(deco, p1, p2, p3, p4, ann).resolve_scale(
    x="independent", y="independent"
).properties(
    width=640, height=1726, padding=0, background="white",
    autosize=alt.AutoSizeParams(type="none"),
).configure_view(stroke=None)

chart.save("out.html", embed_options={"renderer": "svg", "actions": False})
